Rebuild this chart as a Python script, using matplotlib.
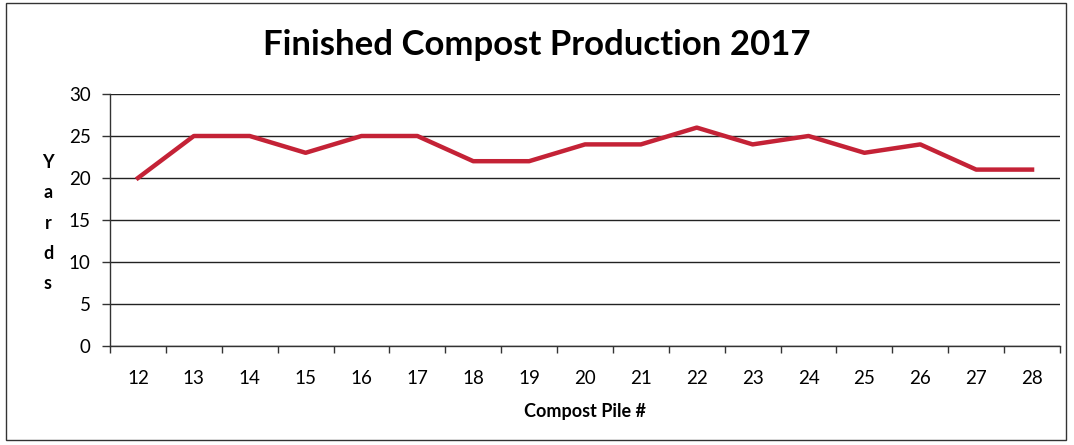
import matplotlib
matplotlib.use('Agg')
import matplotlib.pyplot as plt
from matplotlib.patches import Rectangle

# data
piles = [12, 13, 14, 15, 16, 17, 18, 19, 20, 21, 22, 23, 24, 25, 26, 27, 28]
yards = [20, 25, 25, 23, 25, 25, 22, 22, 24, 24, 26, 24, 25, 23, 24, 21, 21]
yTicks = [0, 5, 10, 15, 20, 25, 30]

LINE_COLOR = '#c42236'
plt.rcParams['font.family'] = ['Lato', 'DejaVu Sans']

fig = plt.figure(figsize=(10.74, 4.45), dpi=100)
ax = fig.add_axes([110/1074, 1 - 346/445, (1060 - 110)/1074, (346 - 94)/445])

# outer chart frame
fig.patches.append(Rectangle((6/1074, 5/445), 1060/1074, 437/445, transform=fig.transFigure,
                             fill=False, edgecolor='#333333', linewidth=1.0))

xPos = list(range(len(piles)))
ax.plot(xPos, yards, color=LINE_COLOR, linewidth=3.2, solid_joinstyle='round', zorder=3)

# axes styling (Excel look)
ax.set_xlim(-0.5, len(piles) - 0.5)
ax.set_ylim(0, 30)
ax.set_yticks(yTicks)
ax.set_yticklabels([str(v) for v in yTicks], fontsize=13.5)
ax.set_xticks(xPos)
ax.set_xticklabels([str(p) for p in piles], fontsize=13.5)
ax.set_xticks([i - 0.5 for i in range(len(piles) + 1)], minor=True)
ax.tick_params(axis='x', which='major', length=0, pad=17)
ax.tick_params(axis='x', which='minor', length=5, width=1, direction='out', color='#333333')
ax.tick_params(axis='y', which='major', length=6, width=1, direction='out', color='#333333', pad=8)
ax.grid(True, axis='y', color='#222222', linewidth=1.0)
for side in ['top', 'right']:
    ax.spines[side].set_visible(False)
for side in ['left', 'bottom']:
    ax.spines[side].set_color('#333333')
    ax.spines[side].set_linewidth(1.0)
ax.set_axisbelow(True)

ax.set_xlabel('Compost Pile #', fontsize=13, fontweight='bold', labelpad=12)
fig.text(48/1074, 1 - 223/445, 'Y\na\nr\nd\ns', fontsize=13, fontweight='bold',
         ha='center', va='center', linespacing=1.95)
fig.text(537/1074, 1 - 45/445, 'Finished Compost Production 2017', fontsize=25,
         fontweight='bold', ha='center', va='center')

fig.savefig('out.png', dpi=100)
